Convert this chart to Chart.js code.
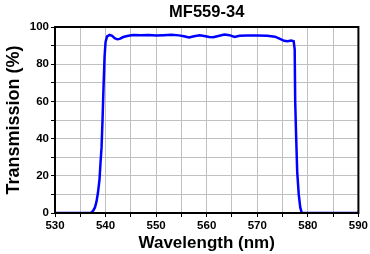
<!DOCTYPE html>
<html>
<head>
<meta charset="utf-8">
<script src="https://cdn.jsdelivr.net/npm/chart.js@4"></script>
<style>
  html, body { margin: 0; padding: 0; background: #fff; }
  #wrap { width: 370px; height: 254px; }
</style>
</head>
<body>
<div id="wrap"><canvas id="chart"></canvas></div>
<script>
// MF559-34 transmission curve
const chartTitle = 'MF559-34';
const wavelengths = [530, 535, 536, 537, 537.3, 537.6, 537.9, 538.2, 538.5, 538.8, 539.0, 539.2, 539.4, 539.6, 539.8, 540.0, 540.3, 540.8, 541.3, 541.8, 542.3, 542.8, 543.5, 544.5, 545.5, 547, 548.5, 550, 551.5, 553, 554.5, 555.5, 556.5, 557.5, 558.6, 559.5, 560.5, 561.3, 562.3, 563.5, 564.5, 565.5, 566.5, 568, 570, 572, 573.5, 574.5, 575.3, 576, 576.7, 577.2, 577.4, 577.5, 577.7, 577.9, 578.2, 578.5, 578.8, 580, 590];
const transmission = [0, 0, 0, 0, 0.5, 1.5, 3, 6, 11, 18, 27, 35, 50, 68, 84, 92, 95, 95.8, 95.2, 94, 93.4, 93.6, 94.6, 95.3, 95.7, 95.5, 95.7, 95.4, 95.6, 95.8, 95.5, 95.0, 94.4, 95.0, 95.6, 95.2, 94.6, 94.5, 95.2, 96, 95.6, 94.6, 95.3, 95.4, 95.4, 95.3, 94.8, 93.6, 92.6, 92.4, 92.7, 92.3, 88, 60, 40, 22, 10, 3, 0, 0, 0];

const xMin = 530, xMax = 590, xStep = 5;
const yMin = 0, yMax = 100, yStep = 10;

const points = wavelengths.map((w, i) => ({ x: w, y: transmission[i] }));
const font = "Arial, 'Liberation Sans', sans-serif";

// black frame round the plot area + title centred over it
const frame = {
  id: 'frame',
  afterDraw(chart) {
    const a = chart.chartArea, ctx = chart.ctx;
    ctx.save();
    ctx.strokeStyle = '#000';
    ctx.lineWidth = 2;
    ctx.strokeRect(a.left, a.top, a.right - a.left, a.bottom - a.top);
    ctx.fillStyle = '#000';
    ctx.font = 'bold 16.5px ' + font;
    ctx.textAlign = 'center';
    ctx.textBaseline = 'middle';
    ctx.fillText(chartTitle, (a.left + a.right) / 2, 12);
    ctx.restore();
  }
};

new Chart(document.getElementById('chart'), {
  type: 'line',
  data: {
    datasets: [{
      data: points,
      borderColor: '#0000ff',
      borderWidth: 2.5,
      pointRadius: 0,
      tension: 0,
      fill: false
    }]
  },
  options: {
    responsive: true,
    maintainAspectRatio: false,
    animation: false,
    layout: { padding: { left: 0, right: 11, top: 27, bottom: 0 } },
    plugins: {
      legend: { display: false },
      tooltip: { enabled: false },
      title: { display: false }
    },
    scales: {
      x: {
        type: 'linear',
        min: xMin, max: xMax,
        afterFit: s => { s.height = 41; },
        ticks: {
          stepSize: xStep,
          color: '#000',
          padding: 2,
          maxRotation: 0,
          autoSkip: false,
          font: { family: font, size: 11.5, weight: 'bold' },
          callback: v => (v % 10 === 0 ? v : '')
        },
        grid: { color: '#c0c0c0', tickColor: '#000', tickLength: 4, lineWidth: 1 },
        border: { color: '#000', width: 2 },
        title: {
          display: true,
          text: 'Wavelength (nm)',
          color: '#000',
          padding: { top: 0, bottom: 0 },
          font: { family: font, size: 17, weight: 'bold' }
        }
      },
      y: {
        min: yMin, max: yMax,
        afterFit: s => { s.width = 55; },
        ticks: {
          stepSize: yStep,
          color: '#000',
          padding: 2,
          autoSkip: false,
          font: { family: font, size: 11.5, weight: 'bold' },
          callback: v => (v % 20 === 0 ? v : '')
        },
        grid: { color: '#c0c0c0', tickColor: '#000', tickLength: 4, lineWidth: 1 },
        border: { color: '#000', width: 2 },
        title: {
          display: true,
          text: 'Transmission (%)',
          color: '#000',
          padding: { top: 3, bottom: 0 },
          font: { family: font, size: 18, weight: 'bold' }
        }
      }
    }
  },
  plugins: [frame]
});
</script>
</body>
</html>
